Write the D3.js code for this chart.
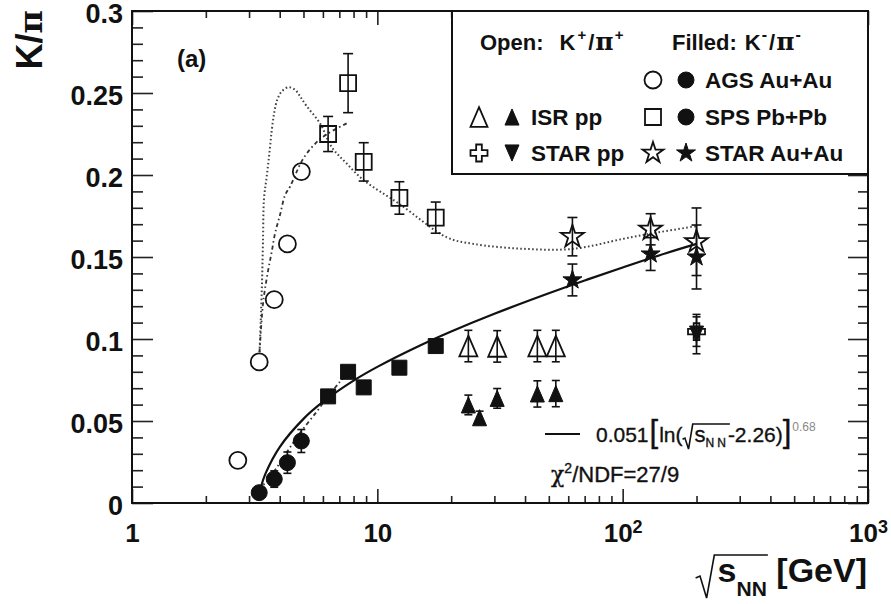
<!DOCTYPE html>
<html>
<head>
<meta charset="utf-8">
<script src="https://cdn.jsdelivr.net/npm/d3@7"></script>
<style>
  body { margin: 0; background: #fff; }
  svg { display: block; font-family: 'Liberation Sans', Arial, Helvetica, sans-serif; }
</style>
</head>
<body>
<div class="canvas"></div>
<script>
// ---- data (sqrt(s_NN) in GeV, K/pi ratio) ----
// AGS Au+Au
const agsOpenE = [2.7, 3.3, 3.8, 4.3, 4.9];
const agsOpenK = [0.026, 0.086, 0.124, 0.158, 0.202];
const agsFillE = [3.3, 3.8, 4.3, 4.9];
const agsFillK = [0.0063, 0.0146, 0.0246, 0.0378];
const agsFillErr = [0.002, 0.005, 0.0065, 0.007];

// SPS Pb+Pb
const spsE = [6.3, 7.6, 8.8, 12.3, 17.3];
const spsOpenK = [0.225, 0.256, 0.208, 0.186, 0.174];
const spsOpenErr = [0.0107, 0.018, 0.0117, 0.0099, 0.0095];
const spsFillK = [0.065, 0.080, 0.0705, 0.0825, 0.0957];

// ISR pp
const isrOpenE = [23.5, 30.8, 44.9, 53.4];
const isrOpenK = [0.0957, 0.0955, 0.0957, 0.0957];
const isrOpenErr = [0.0096, 0.0096, 0.0096, 0.0096];
const isrFillE = [23.5, 26.1, 30.8, 44.9, 53.4];
const isrFillK = [0.0598, 0.052, 0.0638, 0.0665, 0.0667];
const isrFillErr = [0.006, 0.004, 0.006, 0.008, 0.008];

// STAR pp
const starPpE = [200];
const starPpOpenK = [0.1045];
const starPpOpenErr = [0.009];
const starPpFillK = [0.103];
const starPpFillErr = [0.012];

// STAR Au+Au
const starAuE = [62.4, 130, 200];
const starAuOpenK = [0.1624, 0.1669, 0.1593];
const starAuOpenErr = [0.0117, 0.0095, 0.0206];
const starAuFillK = [0.136, 0.1518, 0.150];
const starAuFillErr = [0.0097, 0.010, 0.0195];

// solid fit curve 0.051[ln(sqrt(s)-2.26)]^0.68
const fitE = [3.35, 3.5, 4, 5, 6, 8, 10, 15, 20, 30, 50, 70, 100, 150, 200];
const fitK = [0.0096, 0.0179, 0.0341, 0.0513, 0.0616, 0.0746, 0.083, 0.0962, 0.1046, 0.1154, 0.1279, 0.1357, 0.1436, 0.1523, 0.158];

// dotted model curve (K+/pi+)
const dotE = [3.31, 3.35, 3.39, 3.42, 3.45, 3.54, 3.63, 3.71, 3.80, 3.91, 4.08, 4.34, 4.62, 4.84, 5.15, 5.84, 6.52, 7.50, 8.77, 12.4, 19.2, 24.6, 39.4, 63.0, 100, 133, 203];
const dotK = [0.092, 0.112, 0.136, 0.160, 0.185, 0.199, 0.213, 0.227, 0.238, 0.246, 0.251, 0.2535, 0.252, 0.248, 0.242, 0.2315, 0.217, 0.207, 0.197, 0.182, 0.162, 0.158, 0.155, 0.155, 0.161, 0.1645, 0.169];

// dash-dot curves through the AGS/SPS points
const ddOpenE = [3.31, 3.41, 3.48, 3.59, 3.71, 3.83, 4.01, 4.21, 4.41, 4.99, 5.66, 6.24, 7.50];
const ddOpenK = [0.092, 0.1197, 0.130, 0.142, 0.153, 0.1645, 0.1756, 0.1878, 0.193, 0.210, 0.220, 0.225, 0.2315];
const ddFillE = [3.30, 3.83, 4.28, 4.84, 5.66, 6.30, 7.05, 7.60];
const ddFillK = [0.0079, 0.0201, 0.0311, 0.0427, 0.0557, 0.0652, 0.074, 0.0799];

// ticks
const xTickVals = [1, 10, 100, 1000];
const xTickBase = ['1', '10', '10', '10'];
const xTickExp = ['', '', '2', '3'];
const yTickVals = [0, 0.05, 0.1, 0.15, 0.2, 0.25, 0.3];
const yTickLabels = ['0', '0.05', '0.1', '0.15', '0.2', '0.25', '0.3'];

// ---- svg and margins ----
const width = 891, height = 604;
const svg = d3.select('.canvas')
    .append('svg')
    .attr('width', width)
    .attr('height', height);

const margin = { top: 11, right: 23, bottom: 101, left: 132 };
const graphWidth = width - margin.left - margin.right;
const graphHeight = height - margin.top - margin.bottom;

const graph = svg.append('g')
    .attr('transform', `translate(${margin.left},${margin.top})`);

// scales
const x = d3.scaleLog().domain([1, 1000]).range([0, graphWidth]);
const y = d3.scaleLinear().domain([0, 0.3]).range([graphHeight, 0]);

// minor tick positions
const xMinor = [];
[1, 10, 100].forEach(dec => { for (let m = 2; m <= 9; m++) xMinor.push(dec * m); });
const yMinor = d3.range(0, 31).filter(i => i % 5 !== 0).map(i => i / 100);

const tickStyle = g => {
    g.select('.domain').remove();
    g.attr('font-size', null).attr('font-family', null);
    g.selectAll('.tick line').attr('stroke', '#222').attr('stroke-width', 1.6);
};

// x axes (bottom and top, ticks inside)
graph.append('g')
    .attr('transform', `translate(0,${graphHeight})`)
    .call(d3.axisBottom(x).tickValues(xMinor).tickSizeInner(-7).tickSizeOuter(0).tickFormat(''))
    .call(tickStyle);

const xAxisGroup = graph.append('g')
    .attr('transform', `translate(0,${graphHeight})`)
    .call(d3.axisBottom(x).tickValues(xTickVals).tickSizeInner(-14).tickSizeOuter(0)
        .tickPadding(21).tickFormat((d, i) => xTickBase[i]))
    .call(tickStyle);

xAxisGroup.selectAll('.tick text')
    .attr('font-size', 26)
    .attr('font-weight', 'bold')
    .attr('fill', '#111')
    .each(function (d, i) {
        if (xTickExp[i]) {
            d3.select(this).append('tspan')
                .attr('dy', -9)
                .attr('font-size', 18)
                .text(xTickExp[i]);
        }
    });

graph.append('g')
    .call(d3.axisTop(x).tickValues(xMinor).tickSizeInner(-7).tickSizeOuter(0).tickFormat(''))
    .call(tickStyle);
graph.append('g')
    .call(d3.axisTop(x).tickValues(xTickVals).tickSizeInner(-14).tickSizeOuter(0).tickFormat(''))
    .call(tickStyle);

// y axes (left and right, ticks inside)
graph.append('g')
    .call(d3.axisLeft(y).tickValues(yMinor).tickSizeInner(-11).tickSizeOuter(0).tickFormat(''))
    .call(tickStyle);

const yAxisGroup = graph.append('g')
    .call(d3.axisLeft(y).tickValues(yTickVals).tickSizeInner(-21).tickSizeOuter(0)
        .tickPadding(9).tickFormat((d, i) => yTickLabels[i]))
    .call(tickStyle);

yAxisGroup.selectAll('.tick text')
    .attr('font-size', 27)
    .attr('font-weight', 'bold')
    .attr('fill', '#111')
    .attr('dy', '0.42em');

graph.append('g')
    .attr('transform', `translate(${graphWidth},0)`)
    .call(d3.axisRight(y).tickValues(yMinor).tickSizeInner(-10).tickSizeOuter(0).tickFormat(''))
    .call(tickStyle);
graph.append('g')
    .attr('transform', `translate(${graphWidth},0)`)
    .call(d3.axisRight(y).tickValues(yTickVals).tickSizeInner(-20).tickSizeOuter(0).tickFormat(''))
    .call(tickStyle);

// frame
graph.append('rect')
    .attr('width', graphWidth)
    .attr('height', graphHeight)
    .attr('fill', 'none')
    .attr('stroke', '#111')
    .attr('stroke-width', 2);

// ---- curves ----
const line = d3.line()
    .x(d => x(d[0]))
    .y(d => y(d[1]))
    .curve(d3.curveCatmullRom.alpha(0.5));

const zip = (a, b) => a.map((v, i) => [v, b[i]]);

graph.append('path')
    .attr('d', line(zip(dotE, dotK)))
    .attr('fill', 'none')
    .attr('stroke', '#444')
    .attr('stroke-width', 2)
    .attr('stroke-dasharray', '1.6 2.4');

graph.append('path')
    .attr('d', line(zip(ddOpenE, ddOpenK)))
    .attr('fill', 'none')
    .attr('stroke', '#333')
    .attr('stroke-width', 1.8)
    .attr('stroke-dasharray', '4 3 1.5 3');

graph.append('path')
    .attr('d', line(zip(ddFillE, ddFillK)))
    .attr('fill', 'none')
    .attr('stroke', '#333')
    .attr('stroke-width', 1.8)
    .attr('stroke-dasharray', '4 3 1.5 3');

graph.append('path')
    .attr('d', line(zip(fitE, fitK)))
    .attr('fill', 'none')
    .attr('stroke', '#111')
    .attr('stroke-width', 2.2);

// ---- markers ----
const triPath = (w, h, down) => down
    ? `M0,${h / 2}L${w / 2},${-h / 2}L${-w / 2},${-h / 2}Z`
    : `M0,${-h / 2}L${w / 2},${h / 2}L${-w / 2},${h / 2}Z`;

const markerPath = {
    circle: r => d3.symbol(d3.symbolCircle, Math.PI * r * r)(),
    square: s => d3.symbol(d3.symbolSquare, s * s)(),
    star: r => d3.symbol(d3.symbolStar, r * r / 0.8908130915292852)(),
    cross: w => d3.symbol(d3.symbolCross, Math.pow(w / 3, 2) * 5)(),
    triangle: w => triPath(w, w * 1.15, false),
    triangleDown: w => triPath(w, w * 1.15, true)
};

const errorBars = (E, K, err, cap) => {
    const rows = E.map((e, i) => ({ e, k: K[i], s: err[i] }));
    const g = graph.append('g')
        .attr('stroke', '#111')
        .attr('stroke-width', 1.6);
    g.selectAll('line.bar').data(rows).enter().append('line')
        .attr('x1', d => x(d.e)).attr('x2', d => x(d.e))
        .attr('y1', d => y(d.k - d.s)).attr('y2', d => y(d.k + d.s));
    [-1, 1].forEach(sgn => {
        g.selectAll(null).data(rows).enter().append('line')
            .attr('x1', d => x(d.e) - cap).attr('x2', d => x(d.e) + cap)
            .attr('y1', d => y(d.k + sgn * d.s)).attr('y2', d => y(d.k + sgn * d.s));
    });
};

const markers = (E, K, type, size, filled) => {
    graph.append('g').selectAll('path')
        .data(E.map((e, i) => ({ e, k: K[i] })))
        .enter().append('path')
        .attr('d', markerPath[type](size))
        .attr('transform', d => `translate(${x(d.e)},${y(d.k)})`)
        .attr('fill', filled ? '#111' : 'none')
        .attr('stroke', '#111')
        .attr('stroke-width', filled ? 1 : 1.8)
        .attr('stroke-linejoin', 'miter');
};

// error bars
errorBars(agsFillE, agsFillK, agsFillErr, 4);
errorBars(spsE, spsOpenK, spsOpenErr, 5);
errorBars(isrOpenE, isrOpenK, isrOpenErr, 4);
errorBars(isrFillE, isrFillK, isrFillErr, 4);
errorBars(starPpE, starPpOpenK, starPpOpenErr, 4);
errorBars(starPpE, starPpFillK, starPpFillErr, 4);
errorBars(starAuE, starAuOpenK, starAuOpenErr, 5);
errorBars(starAuE, starAuFillK, starAuFillErr, 5);

// points
markers(agsOpenE, agsOpenK, 'circle', 8.5, false);
markers(agsFillE, agsFillK, 'circle', 8, true);
markers(spsE, spsOpenK, 'square', 16, false);
markers(spsE, spsFillK, 'square', 15, true);
markers(isrOpenE, isrOpenK, 'triangle', 18, false);
markers(isrFillE, isrFillK, 'triangle', 14, true);
markers(starPpE, starPpFillK, 'triangleDown', 14, true);
markers(starPpE, starPpOpenK, 'cross', 17, false);
markers(starAuE, starAuFillK, 'star', 10, true);
markers(starAuE, starAuOpenK, 'star', 12, false);

// ---- legend box ----
const legend = graph.append('g').attr('transform', `translate(${320},0)`);
legend.append('rect')
    .attr('width', graphWidth - 320)
    .attr('height', 163)
    .attr('fill', '#fff')
    .attr('stroke', '#111')
    .attr('stroke-width', 2);

const supText = (t, parts) => {
    parts.forEach(p => {
        const ts = t.append('tspan').text(p.s);
        if (p.dx) ts.attr('dx', p.dx);
        if (p.dy) ts.attr('dy', p.dy);
        if (p.fs) ts.attr('font-size', p.fs);
        if (p.fam) ts.attr('font-family', p.fam);
        if (p.ls) ts.attr('letter-spacing', p.ls);
    });
};

const head1 = legend.append('text').attr('x', 28).attr('y', 39)
    .attr('font-size', 22).attr('font-weight', 'bold').attr('fill', '#111');
supText(head1, [
    { s: 'Open:' }, { s: 'K', dx: 16 }, { s: '+', fs: 15, dy: -10, dx: 2 },
    { s: '/', dy: 10, fs: 22, dx: 2 }, { s: 'π', fam: 'DejaVu Serif', fs: 25, dx: 1 }, { s: '+', fs: 15, dy: -10, dx: 1 }
]);
const head2 = legend.append('text').attr('x', 220).attr('y', 39)
    .attr('font-size', 22).attr('font-weight', 'bold').attr('fill', '#111');
supText(head2, [
    { s: 'Filled:' }, { s: 'K', dx: 8 }, { s: '-', fs: 16, dy: -10, dx: 1 },
    { s: '/', dy: 10, fs: 22, dx: 2 }, { s: 'π', fam: 'DejaVu Serif', fs: 25, dx: 1 }, { s: '-', fs: 16, dy: -10, dx: 1 }
]);

const legendRows = [
    { cx: 201, label: 'AGS Au+Au', y: 69, open: ['circle', 8.5], fill: ['circle', 8] },
    { cx: 27, label: 'ISR pp', y: 106, open: ['triangle', 17], fill: ['triangle', 14] },
    { cx: 201, label: 'SPS Pb+Pb', y: 106, open: ['square', 16], fill: ['circle', 8] },
    { cx: 27, label: 'STAR pp', y: 142, open: ['cross', 17], fill: ['triangleDown', 14] },
    { cx: 201, label: 'STAR Au+Au', y: 142, open: ['star', 11], fill: ['star', 10] }
];

legendRows.forEach(r => {
    legend.append('path')
        .attr('d', markerPath[r.open[0]](r.open[1]))
        .attr('transform', `translate(${r.cx},${r.y})`)
        .attr('fill', 'none').attr('stroke', '#111').attr('stroke-width', 1.8);
    legend.append('path')
        .attr('d', markerPath[r.fill[0]](r.fill[1]))
        .attr('transform', `translate(${r.cx + 33},${r.y})`)
        .attr('fill', '#111').attr('stroke', '#111');
    legend.append('text')
        .attr('x', r.cx + 52)
        .attr('y', r.y + 7.5)
        .attr('font-size', 22.5)
        .attr('font-weight', 'bold')
        .attr('fill', '#111')
        .text(r.label);
});

// ---- fit legend ----
graph.append('line')
    .attr('x1', 413).attr('x2', 448)
    .attr('y1', 423).attr('y2', 423)
    .attr('stroke', '#111').attr('stroke-width', 2.2);

const fitText = graph.append('text')
    .attr('x', 464).attr('y', 431)
    .attr('font-size', 21).attr('fill', '#111')
    .attr('stroke', '#111').attr('stroke-width', 0.35);
supText(fitText, [
    { s: '0.051' }, { s: '[', fs: 31, dx: 1 }, { s: 'ln(', fs: 21, dx: 1 },
    { s: 's', dx: 12, fs: 22 }, { s: 'NN', fs: 12, dy: 5, ls: 3 }, { s: '-2.26)', fs: 21, dy: -5, dx: -1 },
    { s: ']', fs: 31 }, { s: '0.68', fs: 12, dy: -11, dx: 1 }
]);
fitText.selectAll('tspan').filter((d, i) => i === 7).attr('fill', '#888').attr('stroke', 'none');

// radical helper: drawn just left of char i0, overline to end of char i1
const radical = (g, textEl, i0, i1, base, top, bottom, lead) => {
    const node = textEl.node();
    const sx = node.getStartPositionOfChar(i0).x;
    const ex = node.getEndPositionOfChar(i1).x;
    g.append('path')
        .attr('d', `M${sx - lead},${base - (base - top) * 0.15}` +
            `L${sx - lead * 0.8},${base - (base - top) * 0.22}` +
            `L${sx - lead * 0.5},${bottom}` +
            `L${sx - lead * 0.15},${top}L${ex + 1},${top}`)
        .attr('fill', 'none')
        .attr('stroke', '#111')
        .attr('stroke-width', 1.6);
};
radical(graph, fitText, 9, 11, 431, 413, 438, 12);

graph.append('text')
    .attr('x', 419).attr('y', 471)
    .attr('font-size', 22).attr('fill', '#111')
    .attr('stroke', '#111').attr('stroke-width', 0.35)
    .call(t => supText(t, [
        { s: 'χ', fam: 'DejaVu Serif' }, { s: '2', fs: 14, dy: -9 }, { s: '/NDF=27/9', dy: 9, fs: 22 }
    ]));

// panel label
graph.append('text')
    .attr('x', 45).attr('y', 56)
    .attr('font-size', 24).attr('font-weight', 'bold').attr('fill', '#111')
    .text('(a)');

// ---- axis titles ----
const xTitle = graph.append('text')
    .attr('x', graphWidth - 1).attr('y', 571)
    .attr('text-anchor', 'end')
    .attr('font-size', 34).attr('font-weight', 'bold').attr('fill', '#111');
supText(xTitle, [
    { s: 's' }, { s: 'NN', fs: 21, dy: 14 }, { s: ' [GeV]', fs: 34, dy: -14 }
]);
radical(graph, xTitle, 0, 2, 571, 544, 587, 22);

svg.append('text')
    .attr('transform', 'translate(42,10) rotate(-90)')
    .attr('text-anchor', 'end')
    .attr('font-size', 36).attr('font-weight', 'bold').attr('fill', '#111')
    .call(t => supText(t, [{ s: 'K/' }, { s: 'π', fam: 'DejaVu Serif', fs: 32 }]));
</script>
</body>
</html>
